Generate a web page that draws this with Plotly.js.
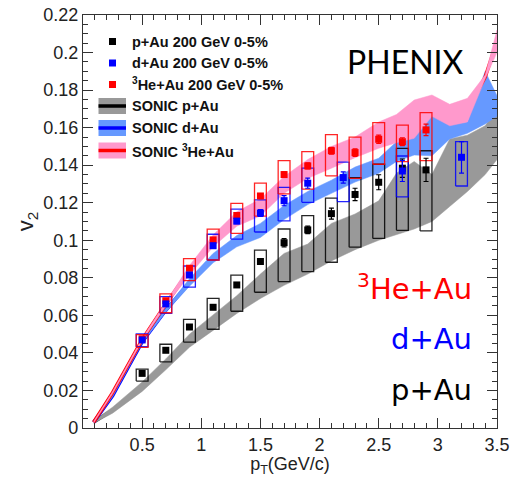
<!DOCTYPE html>
<html><head><meta charset="utf-8">
<script src="https://cdn.plot.ly/plotly-3.0.1.min.js"></script>
<style>html,body{margin:0;padding:0;background:#fff}#chart{width:512px;height:477px}</style>
</head><body><div id="chart"></div>
<script>
// ---- measured data ----
const pAuX = [0.5,0.7,0.9,1.1,1.3,1.5,1.7,1.9,2.1,2.3,2.5,2.7,2.9];
const pAuY = [0.0291,0.0414,0.0538,0.0643,0.0762,0.0887,0.0987,0.1055,0.1142,0.1244,0.1309,0.1384,0.1375];
const pAuStat = [0.0008,0.0008,0.0009,0.001,0.0012,0.0015,0.0022,0.002,0.0029,0.0033,0.004,0.0049,0.0062];
const pAuSysHi = [0.0314,0.0446,0.0579,0.0691,0.0814,0.0948,0.106,0.1131,0.1224,0.1334,0.1405,0.149,0.1477];
const pAuSysLo = [0.025,0.0352,0.0457,0.0526,0.0622,0.0723,0.078,0.0833,0.0883,0.0963,0.101,0.1053,0.105];

const dAuX = [0.5,0.7,0.9,1.1,1.3,1.5,1.7,1.9,2.2,2.7,3.2];
const dAuY = [0.0469,0.0661,0.0815,0.0971,0.1102,0.1145,0.1211,0.1304,0.1334,0.1369,0.1442];
const dAuStat = [0.0008,0.0009,0.001,0.0012,0.0014,0.0018,0.0027,0.0027,0.003,0.0056,0.0084];
const dAuSysHi = [0.0501,0.07,0.0863,0.1032,0.1166,0.1215,0.1282,0.1384,0.1416,0.1449,0.1525];
const dAuSysLo = [0.0433,0.0611,0.075,0.0895,0.1006,0.1044,0.1103,0.1202,0.1206,0.1231,0.1289];

const heAuX = [0.5,0.7,0.9,1.1,1.3,1.5,1.7,1.9,2.1,2.3,2.5,2.7,2.9];
const heAuY = [0.0475,0.0678,0.0851,0.1002,0.1132,0.1236,0.135,0.1396,0.1477,0.1467,0.1538,0.1525,0.1588];
const heAuStat = [0.0008,0.0009,0.001,0.0011,0.0012,0.0013,0.0015,0.0016,0.0018,0.002,0.0022,0.0021,0.0031];
const heAuSysHi = [0.0497,0.0714,0.0902,0.1059,0.1197,0.1304,0.1424,0.1472,0.1563,0.1549,0.1627,0.1613,0.168];
const heAuSysLo = [0.043,0.0614,0.0785,0.0895,0.1037,0.1129,0.1247,0.1272,0.1343,0.133,0.1405,0.1419,0.1424];

// SONIC calculations (bands + central curves)
const sonicX = [0.09,0.25,0.5,0.7,0.9,1.1,1.3,1.5,1.7,1.9,2.1,2.3,2.5,2.65,2.8,2.95,3.1,3.25,3.4,3.5];
const sonicPAuUp  = [0.0039,0.0111,0.0245,0.0368,0.050,0.060,0.0705,0.082,0.093,0.098,0.109,0.114,0.121,0.1357,0.142,0.135,0.154,0.156,0.161,0.170];
const sonicPAuLo  = [0.0025,0.0079,0.0195,0.031,0.043,0.052,0.061,0.069,0.076,0.082,0.089,0.095,0.100,0.103,0.106,0.110,0.118,0.126,0.135,0.143];
const sonicPAuMid = [0.0032,0.0095,0.022,0.034,0.0465,0.056,0.066,0.0755,0.0845,0.09,0.099,0.1045,0.1105,0.119,0.124,0.1225,0.136,0.141,0.148,0.1565];
const sonicDAuUp  = [0.0035,0.0178,0.0466,0.0637,0.0795,0.093,0.1025,0.109,0.1185,0.126,0.132,0.139,0.1437,0.1525,0.156,0.1668,0.1614,0.1632,0.19,0.177];
const sonicDAuLo  = [0.0027,0.0166,0.0452,0.0617,0.0755,0.088,0.0965,0.1015,0.111,0.119,0.125,0.131,0.1357,0.142,0.1454,0.145,0.154,0.157,0.162,0.166];
const sonicDAuMid = [0.0031,0.0172,0.0459,0.0627,0.0775,0.0905,0.0995,0.1053,0.1148,0.1225,0.1285,0.135,0.1397,0.147,0.1507,0.156,0.1577,0.16,0.176,0.1715];
const sonicHeAuUp  = [0.0035,0.0194,0.0478,0.0672,0.0865,0.1028,0.1152,0.122,0.134,0.143,0.150,0.155,0.163,0.167,0.1747,0.1774,0.1724,0.1756,0.188,0.212];
const sonicHeAuLo  = [0.0027,0.0182,0.0464,0.065,0.0815,0.0965,0.1075,0.113,0.125,0.133,0.1384,0.144,0.149,0.152,0.1543,0.166,0.161,0.163,0.186,0.200];
const sonicHeAuMid = [0.0031,0.0188,0.0471,0.0661,0.084,0.0996,0.1113,0.1175,0.1295,0.138,0.144,0.1495,0.156,0.1595,0.1645,0.1717,0.1667,0.1693,0.187,0.206];

const xTickVals = [0.5,1,1.5,2,2.5,3,3.5];
const xTickText = ['0.5','1','1.5','2','2.5','3','3.5'];

const legendRows = [
  {kind:'marker', color:'#000000', text:'p+Au 200 GeV 0-5%'},
  {kind:'marker', color:'#0000ff', text:'d+Au 200 GeV 0-5%'},
  {kind:'marker', color:'#ff0000', text:'<sup>3</sup>He+Au 200 GeV 0-5%'},
  {kind:'band', color:'#999999', line:'#000000', text:'SONIC p+Au'},
  {kind:'band', color:'#6699ff', line:'#0000ff', text:'SONIC d+Au'},
  {kind:'band', color:'#ff99cc', line:'#ff0000', text:'SONIC <sup>3</sup>He+Au'}
];

// ---- style / geometry ----
const W = 512, H = 477, ML = 83, MR = 15, MT = 15, MB = 49;
const PW = W - ML - MR, PH = H - MT - MB;
const BOXW = 0.05;
const px2x = p => (p - ML) / PW;
const py2y = p => (H - MB - p) / PH;

function bandTrace(x, up, lo, color) {
  return {type:'scatter', mode:'lines', x: x.concat(x.slice().reverse()),
    y: up.concat(lo.slice().reverse()), fill:'toself', fillcolor: color,
    line:{color: color, width: 0.5}, hoverinfo:'skip', showlegend:false};
}
function midTrace(x, y, color) {
  return {type:'scatter', mode:'lines', x, y, line:{color, width:3.5}, hoverinfo:'skip', showlegend:false};
}
function boxTrace(x, hi, lo, color) {
  const xs = [], ys = [];
  for (let i = 0; i < x.length; i++) {
    const a = x[i] - BOXW, b = x[i] + BOXW;
    xs.push(a, b, b, a, a, null);
    ys.push(lo[i], lo[i], hi[i], hi[i], lo[i], null);
  }
  return {type:'scatter', mode:'lines', x: xs, y: ys, line:{color, width:1.3}, hoverinfo:'skip', showlegend:false, opacity:0.85};
}
function pointTrace(x, y, stat, color, name) {
  return {type:'scatter', mode:'markers', name, x, y,
    marker:{symbol:'square', size:7, color, line:{width:0}},
    error_y:{type:'data', array: stat, visible:true, color, thickness:1.2, width:2.5},
    showlegend:false};
}

const traces = [
  midTrace(sonicX, sonicPAuMid, '#000000'),
  bandTrace(sonicX, sonicPAuUp, sonicPAuLo, '#999999'),
  midTrace(sonicX, sonicDAuMid, '#0000ff'),
  bandTrace(sonicX, sonicDAuUp, sonicDAuLo, '#6699ff'),
  midTrace(sonicX, sonicHeAuMid, '#ff0000'),
  bandTrace(sonicX, sonicHeAuUp, sonicHeAuLo, '#ff99cc'),
  boxTrace(pAuX, pAuSysHi, pAuSysLo, '#000000'),
  boxTrace(dAuX, dAuSysHi, dAuSysLo, '#0000ff'),
  boxTrace(heAuX, heAuSysHi, heAuSysLo, '#ff0000'),
  pointTrace(pAuX, pAuY, pAuStat, '#000000', 'p+Au'),
  pointTrace(heAuX, heAuY, heAuStat, '#ff0000', '3He+Au'),
  pointTrace(dAuX, dAuY, dAuStat, '#0000ff', 'd+Au')
];

// ---- custom legend ----
const shapes = [], annotations = [];
const rowY = [41.5, 63, 84.5, 106, 128, 150.5];
legendRows.forEach((r, i) => {
  const cy = rowY[i];
  if (r.kind === 'marker') {
    shapes.push({type:'rect', xref:'paper', yref:'paper', x0:px2x(109), x1:px2x(116), y0:py2y(cy+3.5), y1:py2y(cy-3.5), fillcolor:r.color, line:{width:0}});
  } else {
    shapes.push({type:'rect', xref:'paper', yref:'paper', x0:px2x(98.5), x1:px2x(126), y0:py2y(cy+8), y1:py2y(cy-8), fillcolor:r.color, line:{width:0}});
    shapes.push({type:'line', xref:'paper', yref:'paper', x0:px2x(98.5), x1:px2x(126), y0:py2y(cy), y1:py2y(cy), line:{color:r.line, width:3.5}});
  }
  annotations.push({xref:'paper', yref:'paper', x:px2x(130), y:py2y(cy), xanchor:'left', yanchor:'middle',
    text:r.text, showarrow:false, font:{family:'Liberation Sans, Arial, sans-serif', size:14.5, color:'#111', weight:'bold'}});
});
const bigFont = 'DejaVu Sans, sans-serif';
annotations.push({xref:'paper', yref:'paper', x:px2x(466), y:py2y(62), xanchor:'right', yanchor:'middle', text:'PHENIX', showarrow:false, font:{family:'Lato, Open Sans, sans-serif', size:32, color:'#000'}});
annotations.push({xref:'paper', yref:'paper', x:px2x(474), y:py2y(287), xanchor:'right', yanchor:'middle', text:'<sup>3</sup>He+Au', showarrow:false, font:{family:bigFont, size:29, color:'#ff0000'}});
annotations.push({xref:'paper', yref:'paper', x:px2x(474), y:py2y(339), xanchor:'right', yanchor:'middle', text:'d+Au', showarrow:false, font:{family:bigFont, size:29, color:'#0000ff'}});
annotations.push({xref:'paper', yref:'paper', x:px2x(474), y:py2y(390), xanchor:'right', yanchor:'middle', text:'p+Au', showarrow:false, font:{family:bigFont, size:29, color:'#000'}});

const axisFont = {family:'Liberation Sans, Arial, sans-serif', size:18, color:'#222'};
const layout = {
  width: W, height: H,
  margin: {l:ML, r:MR, t:MT, b:MB, pad:0},
  paper_bgcolor:'#fff', plot_bgcolor:'#fff',
  showlegend:false,
  xaxis: {range:[0,3.5], tickmode:'array', tickvals:xTickVals, ticktext:xTickText,
    ticks:'inside', ticklen:10, tickwidth:1, tickcolor:'#333',
    showline:true, linecolor:'#333', linewidth:1.2, mirror:'allticks',
    showgrid:false, zeroline:false, tickfont:axisFont,
    minor:{tickmode:'linear', tick0:0, dtick:0.1, ticks:'inside', ticklen:5, tickcolor:'#333', showgrid:false},
    title:{text:'p<sub>T</sub>(GeV/c)', font:{family:'Liberation Sans, Arial, sans-serif', size:18, color:'#222'}, standoff:0},
    automargin:false},
  yaxis: {range:[0,0.22], tick0:0, dtick:0.02,
    ticks:'inside', ticklen:10, tickwidth:1, tickcolor:'#333',
    showline:true, linecolor:'#333', linewidth:1.2, mirror:'allticks',
    showgrid:false, zeroline:false, tickfont:axisFont,
    minor:{tickmode:'linear', tick0:0, dtick:0.005, ticks:'inside', ticklen:5, tickcolor:'#333', showgrid:false},
    title:{text:'v<sub>2</sub>', font:{family:'Liberation Sans, Arial, sans-serif', size:22, color:'#222'}, standoff:3},
    automargin:false},
  shapes, annotations
};
Plotly.newPlot('chart', traces, layout, {staticPlot:true, displayModeBar:false});
</script></body></html>
